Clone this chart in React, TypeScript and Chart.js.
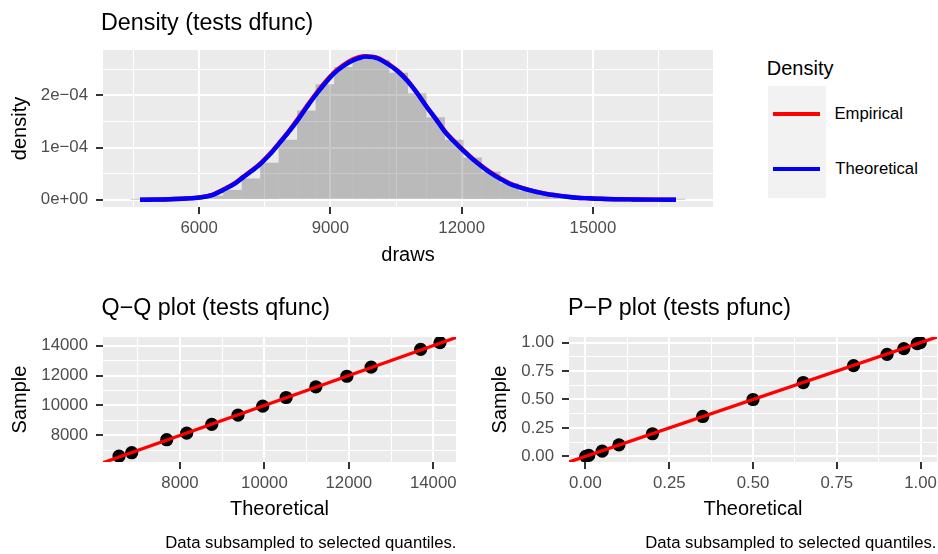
import React, { useEffect, useRef } from "react";
import { Chart, registerables } from "chart.js";

Chart.register(...registerables);

const FONT = "'Liberation Sans', Arial, Helvetica, sans-serif";

// ---------------- Density panel (histogram + two density curves) ----------------
const binCenters = [4649, 5072, 5494, 5916, 6339, 6761, 7184, 7606, 8028, 8451, 8873, 9296, 9718, 10140, 10563,
  10985, 11408, 11830, 12252, 12675, 13097, 13520, 13942, 14364, 14787, 15209, 15632, 16054, 16476, 16899];
const binDensity = [0.002e-4, 0.005e-4, 0.012e-4, 0.03e-4, 0.08e-4, 0.19e-4, 0.41e-4, 0.71e-4, 1.15e-4, 1.71e-4,
  2.21e-4, 2.54e-4, 2.70e-4, 2.68e-4, 2.43e-4, 2.04e-4, 1.58e-4, 1.15e-4, 0.81e-4, 0.54e-4,
  0.32e-4, 0.17e-4, 0.09e-4, 0.045e-4, 0.02e-4, 0.01e-4, 0.005e-4, 0.003e-4, 0.001e-4, 0.001e-4];

const curveX = [4649, 5000, 5330, 5700, 6016, 6300, 6549, 6780, 7006, 7200, 7404, 7620, 7823, 8040, 8250, 8460,
  8669, 8880, 9087, 9300, 9499, 9650, 9800, 9950, 10100, 10345, 10550, 10766, 10985, 11200, 11408, 11619,
  11830, 12037, 12250, 12458, 12670, 12883, 13090, 13304, 13520, 13722, 13950, 14173, 14400, 14630, 14900,
  15163, 15500, 15918, 16400, 16899];
const theoreticalDensity = [0.002e-4, 0.006e-4, 0.012e-4, 0.025e-4, 0.045e-4, 0.09e-4, 0.19e-4, 0.29e-4, 0.43e-4,
  0.55e-4, 0.69e-4, 0.87e-4, 1.07e-4, 1.29e-4, 1.52e-4, 1.77e-4, 2.01e-4, 2.23e-4, 2.42e-4, 2.56e-4, 2.66e-4,
  2.71e-4, 2.74e-4, 2.73e-4, 2.70e-4, 2.58e-4, 2.45e-4, 2.27e-4, 2.04e-4, 1.78e-4, 1.55e-4, 1.30e-4, 1.11e-4,
  0.94e-4, 0.78e-4, 0.64e-4, 0.51e-4, 0.40e-4, 0.31e-4, 0.245e-4, 0.19e-4, 0.15e-4, 0.11e-4, 0.085e-4,
  0.06e-4, 0.04e-4, 0.03e-4, 0.02e-4, 0.013e-4, 0.008e-4, 0.004e-4, 0.002e-4];
const empiricalDensity = [0.002e-4, 0.005e-4, 0.012e-4, 0.026e-4, 0.047e-4, 0.095e-4, 0.195e-4, 0.30e-4, 0.44e-4,
  0.56e-4, 0.70e-4, 0.88e-4, 1.08e-4, 1.30e-4, 1.54e-4, 1.79e-4, 2.03e-4, 2.25e-4, 2.44e-4, 2.58e-4, 2.68e-4,
  2.73e-4, 2.75e-4, 2.74e-4, 2.71e-4, 2.59e-4, 2.46e-4, 2.28e-4, 2.04e-4, 1.78e-4, 1.55e-4, 1.31e-4, 1.12e-4,
  0.95e-4, 0.79e-4, 0.65e-4, 0.52e-4, 0.41e-4, 0.32e-4, 0.25e-4, 0.195e-4, 0.152e-4, 0.112e-4, 0.086e-4,
  0.061e-4, 0.041e-4, 0.03e-4, 0.02e-4, 0.013e-4, 0.008e-4, 0.004e-4, 0.002e-4];

const densityXMajor = [6000, 9000, 12000, 15000];
const densityXMinor = [4500, 7500, 10500, 13500, 16500];
const densityXLabels = ["6000", "9000", "12000", "15000"];
const densityYMajor = [0, 1e-4, 2e-4];
const densityYMinor = [0.5e-4, 1.5e-4, 2.5e-4];
const densityYLabels = ["0e+00", "1e\u221204", "2e\u221204"];

// ---------------- Q-Q panel ----------------
const qqTheoretical = [6555, 6855, 7685, 8158, 8751, 9374, 9960, 10514, 11218, 11953, 12528, 13701, 14159];
const qqSample = [6615, 6843, 7712, 8154, 8736, 9358, 9953, 10535, 11244, 11953, 12562, 13752, 14200];
const qqRefLine = [5000, 16000];
const qqMajor = [8000, 10000, 12000, 14000];
const qqMinor = [7000, 9000, 11000, 13000];
const qqLabels = ["8000", "10000", "12000", "14000"];

// ---------------- P-P panel ----------------
const ppTheoretical = [0.001, 0.01, 0.05, 0.1, 0.2, 0.35, 0.5, 0.65, 0.8, 0.9, 0.95, 0.99, 0.999];
const ppSample = [0.001, 0.009, 0.046, 0.102, 0.199, 0.351, 0.5, 0.649, 0.798, 0.897, 0.947, 0.991, 0.999];
const ppRefLine = [-0.1, 1.1];
const ppMajor = [0, 0.25, 0.5, 0.75, 1];
const ppMinor = [0.125, 0.375, 0.625, 0.875];
const ppLabels = ["0.00", "0.25", "0.50", "0.75", "1.00"];

const TICK_FONT = { family: FONT, size: 16.8 };
const AXIS_TITLE_FONT = { family: FONT, size: 20, lineHeight: 1.2 };
const TICK_LEN = 7;

const panelBg = {
  id: "panelBg",
  beforeDraw(chart: any) {
    const { ctx, chartArea } = chart;
    if (!chartArea) return;
    ctx.save();
    ctx.fillStyle = "#EBEBEB";
    ctx.fillRect(chartArea.left, chartArea.top, chartArea.right - chartArea.left, chartArea.bottom - chartArea.top);
    ctx.restore();
  },
};

function makeAxis(
  kind: "x" | "y",
  min: number,
  max: number,
  major: number[],
  minor: number[],
  labels: string[],
  title: string,
  titlePad: number,
  tickPad: number,
  fixedSize: number
) {
  const majorSet = new Set(major);
  const all = [...major, ...minor].sort((a, b) => a - b);
  return {
    type: "linear",
    position: kind === "x" ? "bottom" : "left",
    min,
    max,
    bounds: "data",
    offset: false,
    afterBuildTicks: (s: any) => {
      s.ticks = all.map((v) => ({ value: v }));
    },
    afterFit: (s: any) => {
      if (kind === "x") s.height = fixedSize;
      else s.width = fixedSize;
      s.paddingLeft = 0;
      s.paddingRight = 0;
      s.paddingTop = 0;
      s.paddingBottom = 0;
    },
    grid: {
      offset: false,
      color: "#FFFFFF",
      lineWidth: (c: any) => (c.tick && majorSet.has(c.tick.value) ? 2 : 1),
      drawTicks: true,
      tickLength: TICK_LEN,
      tickWidth: 2,
      tickColor: (c: any) => (c.tick && majorSet.has(c.tick.value) ? "#333333" : "rgba(0,0,0,0)"),
    },
    border: { display: false },
    ticks: {
      autoSkip: false,
      maxRotation: 0,
      minRotation: 0,
      padding: tickPad,
      color: "#4D4D4D",
      font: TICK_FONT,
      callback: (v: any) => {
        const i = major.indexOf(v);
        return i >= 0 ? labels[i] : "";
      },
    },
    title: {
      display: true,
      text: title,
      color: "#000000",
      font: AXIS_TITLE_FONT,
      padding: kind === "x" ? { top: 0, bottom: titlePad } : { top: titlePad, bottom: 0 },
    },
  };
}

const baseOptions = (padTop: number, padRight: number, x: any, y: any) => ({
  responsive: false,
  animation: false as const,
  devicePixelRatio: 1,
  events: [],
  layout: { padding: { top: padTop, right: padRight, bottom: 0, left: 0 }, autoPadding: false },
  plugins: { legend: { display: false }, tooltip: { enabled: false }, title: { display: false } },
  scales: { x, y },
});

export default function App() {
  const densityRef = useRef<HTMLCanvasElement>(null);
  const qqRef = useRef<HTMLCanvasElement>(null);
  const ppRef = useRef<HTMLCanvasElement>(null);

  useEffect(() => {
    const charts: Chart[] = [];

    // Density chart: canvas 730x270 at (0,0); plot area x 103..713, y 50..207
    charts.push(
      new Chart(densityRef.current as HTMLCanvasElement, {
        type: "bar",
        data: {
          datasets: [
            {
              type: "line",
              label: "Theoretical",
              data: curveX.map((x, i) => ({ x, y: theoreticalDensity[i] })),
              borderColor: "#0000FF",
              borderWidth: 4.4,
              pointRadius: 0,
              cubicInterpolationMode: "monotone",
              order: 0,
              clip: 0,
            } as any,
            {
              type: "line",
              label: "Empirical",
              data: curveX.map((x, i) => ({ x, y: empiricalDensity[i] })),
              borderColor: "#FF0000",
              borderWidth: 4.4,
              pointRadius: 0,
              cubicInterpolationMode: "monotone",
              order: 1,
              clip: 0,
            } as any,
            {
              type: "bar",
              label: "draws",
              data: binCenters.map((x, i) => ({ x, y: binDensity[i] })),
              backgroundColor: "rgba(85,85,85,0.32)",
              borderWidth: 0,
              barPercentage: 1,
              categoryPercentage: 1,
              grouped: false,
              inflateAmount: 0,
              order: 2,
              clip: 0,
            } as any,
          ],
        },
        options: baseOptions(
          50,
          17,
          makeAxis("x", 3804, 17744, densityXMajor, densityXMinor, densityXLabels, "draws", 3, 4.4, 63),
          makeAxis("y", -0.1365e-4, 2.8665e-4, densityYMajor, densityYMinor, densityYLabels, "density", 8, 8, 103)
        ) as any,
        plugins: [panelBg],
      })
    );

    // Q-Q chart: canvas 470x274 at (0,280); plot area x 103..456, y 337..462
    charts.push(
      new Chart(qqRef.current as HTMLCanvasElement, {
        type: "scatter",
        data: {
          datasets: [
            {
              type: "line",
              label: "reference",
              data: qqRefLine.map((v) => ({ x: v, y: v })),
              borderColor: "#FF0000",
              borderWidth: 3.3,
              pointRadius: 0,
              showLine: true,
              order: 0,
              clip: 0,
            } as any,
            {
              label: "quantiles",
              data: qqTheoretical.map((x, i) => ({ x, y: qqSample[i] })),
              backgroundColor: "#000000",
              borderWidth: 0,
              pointRadius: 6.6,
              order: 1,
              clip: 0,
            } as any,
          ],
        },
        options: baseOptions(
          57,
          14,
          makeAxis("x", 6175, 14539, qqMajor, qqMinor, qqLabels, "Theoretical", 33, 4.4, 92),
          makeAxis("y", 6222, 14578, qqMajor, qqMinor, qqLabels, "Sample", 8, 8, 103)
        ) as any,
        plugins: [panelBg],
      })
    );

    // P-P chart: canvas 468x274 at (470,280); plot area x 569..937, y 337..462
    charts.push(
      new Chart(ppRef.current as HTMLCanvasElement, {
        type: "scatter",
        data: {
          datasets: [
            {
              type: "line",
              label: "reference",
              data: ppRefLine.map((v) => ({ x: v, y: v })),
              borderColor: "#FF0000",
              borderWidth: 3.3,
              pointRadius: 0,
              showLine: true,
              order: 0,
              clip: 0,
            } as any,
            {
              label: "probabilities",
              data: ppTheoretical.map((x, i) => ({ x, y: ppSample[i] })),
              backgroundColor: "#000000",
              borderWidth: 0,
              pointRadius: 6.6,
              order: 1,
              clip: 0,
            } as any,
          ],
        },
        options: baseOptions(
          57,
          1,
          makeAxis("x", -0.049, 1.049, ppMajor, ppMinor, ppLabels, "Theoretical", 33, 4.4, 92),
          makeAxis("y", -0.049, 1.049, ppMajor, ppMinor, ppLabels, "Sample", 18, 8, 99)
        ) as any,
        plugins: [panelBg],
      })
    );

    return () => charts.forEach((c) => c.destroy());
  }, []);

  const text = (extra: React.CSSProperties): React.CSSProperties => ({
    position: "absolute",
    lineHeight: 1,
    whiteSpace: "nowrap",
    color: "#000000",
    fontFamily: FONT,
    ...extra,
  });

  return (
    <div
      style={{
        position: "absolute",
        left: 0,
        top: 0,
        width: 938,
        height: 554,
        overflow: "hidden",
        background: "#FFFFFF",
        fontFamily: FONT,
      }}
    >
      <canvas ref={densityRef} width={730} height={270} style={{ position: "absolute", left: 0, top: 0, width: 730, height: 270 }} />
      <canvas ref={qqRef} width={470} height={274} style={{ position: "absolute", left: 0, top: 280, width: 470, height: 274 }} />
      <canvas ref={ppRef} width={468} height={274} style={{ position: "absolute", left: 470, top: 280, width: 468, height: 274 }} />

      {/* plot titles */}
      <div style={text({ left: 101, top: 10.8, fontSize: 23.3 })}>Density (tests dfunc)</div>
      <div style={text({ left: 101.5, top: 296.3, fontSize: 23.3 })}>Q{"\u2212"}Q plot (tests qfunc)</div>
      <div style={text({ left: 568, top: 296.3, fontSize: 23.3 })}>P{"\u2212"}P plot (tests pfunc)</div>

      {/* legend */}
      <div style={text({ left: 766.8, top: 58.1, fontSize: 20 })}>Density</div>
      <div style={{ position: "absolute", left: 768.3, top: 85.7, width: 57.7, height: 112, background: "#F2F2F2" }} />
      <div style={{ position: "absolute", left: 773, top: 112.1, width: 47, height: 3.8, background: "#FF0000" }} />
      <div style={{ position: "absolute", left: 773, top: 167.4, width: 47, height: 3.8, background: "#0000FF" }} />
      <div style={text({ left: 834.4, top: 105.9, fontSize: 16.7 })}>Empirical</div>
      <div style={text({ left: 835.3, top: 160.9, fontSize: 16.7 })}>Theoretical</div>

      {/* captions */}
      <div style={text({ right: 938 - 456.5, top: 535.2, fontSize: 16.7 })}>Data subsampled to selected quantiles.</div>
      <div style={text({ right: 1.5, top: 535.2, fontSize: 16.7 })}>Data subsampled to selected quantiles.</div>
    </div>
  );
}
